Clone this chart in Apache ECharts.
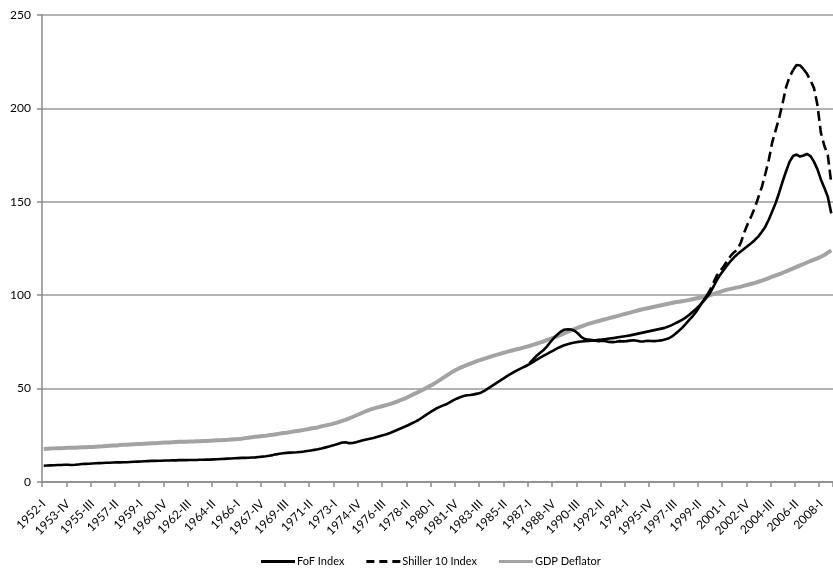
<!DOCTYPE html>
<html>
<head>
<meta charset="utf-8">
<script src="https://cdn.jsdelivr.net/npm/echarts@6/dist/echarts.min.js"></script>
<style>
  html, body { margin: 0; padding: 0; background: #fff; }
  #chart { width: 833px; height: 569px; }
</style>
</head>
<body>
<div id="chart"></div>
<script>
// quarterly data, 1952-I .. 2008-IV
var firstYear = 1952;
var lastYear = 2008;
var quarterNames = ['I', 'II', 'III', 'IV'];

var fof = [
  8.7, 8.8, 8.9, 9.0,   9.1, 9.1, 9.2, 9.2,   9.1, 9.2, 9.4, 9.6,   9.7, 9.8, 9.9, 10.0,
  10.1, 10.2, 10.3, 10.3,   10.4, 10.5, 10.5, 10.6,   10.6, 10.7, 10.8, 10.9,   11.0, 11.1, 11.2, 11.3,
  11.3, 11.4, 11.4, 11.5,   11.5, 11.6, 11.6, 11.7,   11.7, 11.7, 11.8, 11.8,   11.8, 11.9, 11.9, 12.0,
  12.0, 12.1, 12.2, 12.3,   12.4, 12.5, 12.6, 12.7,   12.8, 12.9, 12.9, 13.0,   13.1, 13.2, 13.4, 13.6,
  13.8, 14.1, 14.4, 14.8,   15.1, 15.4, 15.6, 15.7,   15.8, 15.9, 16.1, 16.3,   16.6, 16.9, 17.2, 17.5,
  17.9, 18.4, 18.9, 19.4,   19.9, 20.5, 21.1, 21.3,   20.8, 20.9, 21.3, 21.8,   22.3, 22.8, 23.2, 23.6,
  24.1, 24.6, 25.1, 25.7,   26.4, 27.2, 28.0, 28.8,   29.6, 30.4, 31.3, 32.2,   33.2, 34.4, 35.7, 36.9,
  38.1, 39.2, 40.1, 40.9,   41.6, 42.6, 43.7, 44.6,   45.4, 46.0, 46.4, 46.6,   46.9, 47.3, 47.8, 48.8,
  50.0, 51.2, 52.4, 53.6,   54.8, 56.0, 57.2, 58.3,   59.3, 60.3, 61.2, 62.1,   63.1, 64.2, 65.4, 66.5,
  67.5, 68.5, 69.5, 70.5,   71.5, 72.4, 73.2, 73.8,   74.3, 74.7, 75.0, 75.2,   75.4, 75.5, 75.7, 75.9,
  76.1, 76.3, 76.5, 76.8,   77.0, 77.3, 77.6, 77.9,   78.2, 78.5, 78.9, 79.3,   79.7, 80.1, 80.5, 80.9,
  81.3, 81.7, 82.1, 82.5,   83.2, 84.0, 84.9, 85.8,   86.8, 88.0, 89.4, 91.0,   92.6, 94.4, 96.4, 98.6,
  101.0, 104.5, 108.0, 111.0,   113.5, 116.0, 118.3, 120.3,   122.0, 123.5, 125.0, 126.5,   128.0, 129.6, 131.5, 134.0,
  136.7, 140.5, 145.0, 149.5,   155.0, 161.0, 166.5, 171.5,   174.5, 175.3, 174.2, 174.8,   175.6, 174.5, 171.5, 167.5,
  162.0, 157.5, 152.7, 143.8
];

// Shiller 10 starts 1987-I
var shillerStart = 140;
var shiller = [
  63.5, 65.5, 67.5, 69.0,   70.5, 72.5, 74.8, 77.0,   78.8, 80.5, 81.5, 81.8,   81.6, 81.0, 79.5, 77.5,
  76.5, 76.2, 76.0, 75.6,   75.4, 75.6, 75.4, 75.0,   74.9, 75.1, 75.4, 75.3,   75.4, 75.7, 75.9, 75.6,
  75.2, 75.3, 75.6, 75.5,   75.4, 75.6, 75.8, 76.3,   76.8, 77.8, 79.2, 80.8,   82.5, 84.5, 86.7, 88.7,
  91.0, 93.8, 96.8, 99.5,   102.5, 106.5, 110.5, 113.0,   115.5, 118.3, 121.0, 123.0,   124.5, 128.5, 134.0, 138.5,
  142.5, 147.0, 152.5, 158.0,   165.0, 172.5, 182.0, 188.5,   195.0, 203.0, 211.5, 217.0,   220.5, 223.2, 223.0, 221.0,
  218.5, 215.0, 211.0, 202.0,   187.0, 180.0, 175.0, 160.0
];

var gdp = [
  17.7, 17.8, 17.9, 18.0,   18.1, 18.1, 18.2, 18.3,   18.4, 18.4, 18.5, 18.6,   18.6, 18.7, 18.8, 18.9,
  19.0, 19.1, 19.3, 19.4,   19.5, 19.6, 19.8, 19.9,   20.0, 20.1, 20.2, 20.3,   20.4, 20.5, 20.6, 20.7,
  20.8, 20.9, 21.0, 21.1,   21.2, 21.3, 21.4, 21.5,   21.6, 21.6, 21.7, 21.7,   21.8, 21.8, 21.9, 22.0,
  22.1, 22.2, 22.3, 22.4,   22.5, 22.6, 22.8, 22.9,   23.0, 23.2, 23.5, 23.7,   24.0, 24.2, 24.4, 24.6,
  24.8, 25.1, 25.3, 25.6,   25.9, 26.2, 26.4, 26.7,   27.0, 27.3, 27.6, 27.9,   28.2, 28.6, 28.9, 29.2,
  29.8, 30.2, 30.6, 31.0,   31.5, 32.1, 32.7, 33.3,   34.0, 34.8, 35.6, 36.4,   37.2, 38.0, 38.7, 39.3,
  39.8, 40.3, 40.8, 41.3,   41.8, 42.5, 43.2, 43.9,   44.6, 45.5, 46.4, 47.3,   48.2, 49.1, 50.1, 51.1,
  52.1, 53.2, 54.4, 55.6,   56.8, 58.0, 59.2, 60.2,   61.1, 61.9, 62.7, 63.4,   64.1, 64.8, 65.4, 66.0,
  66.6, 67.2, 67.8, 68.3,   68.9, 69.4, 69.9, 70.4,   70.9, 71.3, 71.8, 72.3,   72.8, 73.4, 74.0, 74.6,
  75.2, 75.9, 76.6, 77.3,   78.0, 78.8, 79.6, 80.3,   81.1, 81.9, 82.6, 83.3,   84.0, 84.6, 85.2, 85.7,
  86.2, 86.7, 87.2, 87.7,   88.2, 88.7, 89.2, 89.7,   90.2, 90.7, 91.2, 91.7,   92.2, 92.6, 93.0, 93.4,
  93.8, 94.2, 94.6, 95.0,   95.4, 95.8, 96.2, 96.5,   96.8, 97.1, 97.4, 97.8,   98.2, 98.6, 99.0, 99.5,
  100.0, 100.6, 101.2, 101.8,   102.4, 103.0, 103.4, 103.8,   104.2, 104.6, 105.1, 105.6,   106.1, 106.6, 107.2, 107.8,
  108.5, 109.2, 109.9, 110.6,   111.3, 112.0, 112.8, 113.6,   114.4, 115.2, 116.0, 116.7,   117.5, 118.3, 119.0, 119.7,
  120.6, 121.5, 122.8, 124.0
];

var yTicks = [0, 50, 100, 150, 200, 250];

var categories = [];
for (var y = firstYear; y <= lastYear; y++) {
  for (var q = 0; q < 4; q++) categories.push(y + '-' + quarterNames[q]);
}

// Shiller on the full axis
var shillerFull = categories.map(function (c, i) {
  var k = i - shillerStart;
  return (k >= 0 && k < shiller.length) ? shiller[k] : null;
});
// Excel restarts the dash on each segment, so flat stretches look solid
var solidRanges = [[140, 191], [216, 219]];
function inSolid(i) {
  for (var r = 0; r < solidRanges.length; r++) {
    if (i >= solidRanges[r][0] && i <= solidRanges[r][1]) return true;
  }
  return false;
}
function inDashed(i) {
  return i >= 191 && (i <= 216 || i >= 219);
}
var shillerSolid = shillerFull.map(function (v, i) { return inSolid(i) ? v : null; });
var shillerDashed = shillerFull.map(function (v, i) { return inDashed(i) ? v : null; });

// legend glyphs: plain bar, dashed bar
var solidIcon = 'path://M0,0h34v3h-34z';
var dashIcon = 'path://M0,0h8v3h-8z M13,0h8v3h-8z M26,0h8v3h-8z';

var font = 'Lato, "Open Sans", sans-serif';
var chart = echarts.init(document.getElementById('chart'));

var option = {
  animation: false,
  backgroundColor: '#fff',
  grid: { left: 42, right: 0, top: 15, bottom: 87, containLabel: false },
  legend: {
    data: [
      { name: 'FoF Index', icon: solidIcon },
      { name: 'Shiller 10 Index', icon: dashIcon },
      { name: 'GDP Deflator', icon: solidIcon }
    ],
    left: 256,
    top: 551,
    itemWidth: 34,
    itemHeight: 3,
    itemGap: 22,
    textStyle: { fontFamily: font, fontSize: 11, color: '#000', padding: [0, 0, 0, -3] }
  },
  xAxis: {
    type: 'category',
    data: categories,
    boundaryGap: true,
    axisLine: { lineStyle: { color: '#8a8a8a', width: 1.5 } },
    axisTick: { show: true, interval: 6, length: 5, lineStyle: { color: '#8a8a8a', width: 1.5 } },
    axisLabel: {
      interval: 6,
      rotate: 45,
      margin: 20,
      fontFamily: font,
      fontSize: 12,
      color: '#000'
    },
    splitLine: { show: false }
  },
  yAxis: {
    type: 'value',
    min: yTicks[0],
    max: yTicks[yTicks.length - 1],
    interval: 50,
    axisLine: { show: true, lineStyle: { color: '#8a8a8a', width: 1.5 } },
    axisTick: { show: true, length: 5, lineStyle: { color: '#8a8a8a', width: 1.5 } },
    axisLabel: { fontFamily: font, fontSize: 12, color: '#000', margin: 11 },
    splitLine: { show: true, lineStyle: { color: '#9a9a9a', width: 1.5 } }
  },
  series: [
    {
      name: 'GDP Deflator',
      type: 'line',
      data: gdp,
      symbol: 'none',
      z: 1,
      lineStyle: { color: '#a3a3a3', width: 4 },
      itemStyle: { color: '#a3a3a3' }
    },
    {
      name: 'FoF Index',
      type: 'line',
      data: fof,
      symbol: 'none',
      z: 3,
      lineStyle: { color: '#000', width: 2.6 },
      itemStyle: { color: '#000' }
    },
    {
      name: 'Shiller 10 Index',
      type: 'line',
      data: shillerDashed,
      symbol: 'none',
      connectNulls: false,
      z: 3,
      lineStyle: { color: '#000', width: 2.6, type: [10, 5] },
      itemStyle: { color: '#000' }
    },
    {
      name: 'Shiller 10 (flat part)',
      type: 'line',
      data: shillerSolid,
      symbol: 'none',
      connectNulls: false,
      z: 3,
      lineStyle: { color: '#000', width: 2.6 },
      itemStyle: { color: '#000' }
    }
  ]
};

chart.setOption(option);
</script>
</body>
</html>
